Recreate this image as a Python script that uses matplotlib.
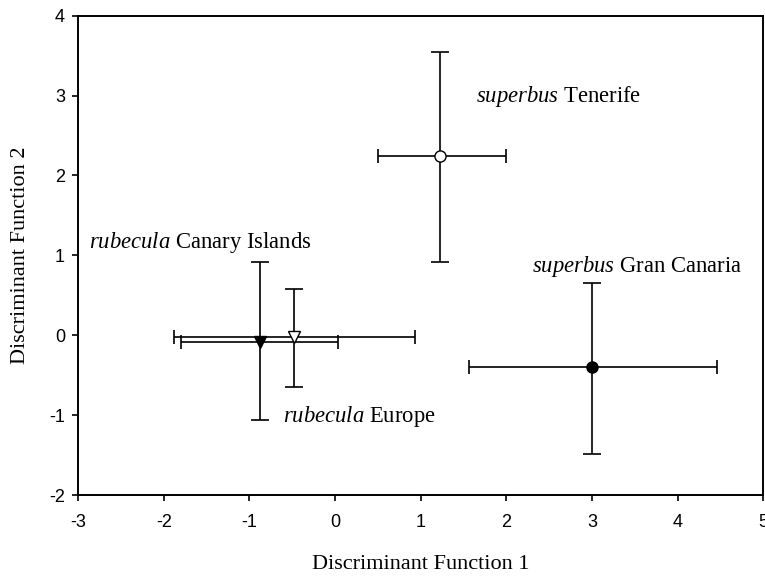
import matplotlib
matplotlib.use("Agg")
import matplotlib.pyplot as plt

plt.rcParams["axes.unicode_minus"] = False
plt.rcParams["mathtext.fontset"] = "custom"
plt.rcParams["mathtext.it"] = "Liberation Serif:italic"
plt.rcParams["mathtext.rm"] = "Liberation Serif"

# Data
groups = ["superbus Tenerife", "superbus Gran Canaria", "rubecula Canary Islands", "rubecula Europe"]
df1_mean = [1.23, 3.00, -0.88, -0.48]
df2_mean = [2.24, -0.40, -0.08, -0.02]
df1_low = [0.50, 1.56, -1.80, -1.88]
df1_high = [1.99, 4.46, 0.04, 0.93]
df2_low = [0.92, -1.48, -1.06, -0.64]
df2_high = [3.54, 0.66, 0.92, 0.58]
markers = ["o", "o", "v", "v"]
facecolors = ["white", "black", "black", "white"]

label_italic = ["superbus", "superbus", "rubecula", "rubecula"]
label_plain = ["Tenerife", "Gran Canaria", "Canary Islands", "Europe"]
label_x = [1.64, 2.30, -2.87, -0.61]
label_y = [2.99, 0.86, 1.16, -1.01]

fig = plt.figure(figsize=(7.65, 5.76), dpi=100)
ax = fig.add_axes([0.102, 0.14, 0.896, 0.833])

for i in range(len(groups)):
    x, y = df1_mean[i], df2_mean[i]
    ax.errorbar([x], [y], yerr=[[y - df2_low[i]], [df2_high[i] - y]], fmt="none",
                ecolor="black", elinewidth=1.2, capsize=6.5, capthick=1.2, zorder=2)
    ax.errorbar([x], [y], xerr=[[x - df1_low[i]], [df1_high[i] - x]], fmt="none",
                ecolor="black", elinewidth=1.2, capsize=5, capthick=1.2, zorder=2)
    ax.plot([x], [y], marker=markers[i], markersize=8, markerfacecolor=facecolors[i],
            markeredgecolor="black", markeredgewidth=1.0, linestyle="none", zorder=3)

for i in range(len(groups)):
    ax.text(label_x[i], label_y[i],
            r"$\it{" + label_italic[i] + r"}$ " + label_plain[i],
            fontsize=16.3, family="Liberation Serif", va="center", ha="left")

ax.set_xlim(-3, 5)
ax.set_ylim(-2, 4)
ax.set_xticks(range(-3, 6))
ax.set_yticks(range(-2, 5))
ax.tick_params(direction="out", length=4.3, width=1.2, labelsize=13, top=False, right=False)
ax.tick_params(axis="x", pad=9)
ax.tick_params(axis="y", pad=5)
for lab in ax.get_xticklabels() + ax.get_yticklabels():
    lab.set_family("Liberation Sans")
for s in ax.spines.values():
    s.set_linewidth(1.4)

ax.set_xlabel("Discriminant Function 1", family="Liberation Serif", fontsize=16, labelpad=17.5)
ax.set_ylabel("Discriminant Function 2", family="Liberation Serif", fontsize=16, labelpad=14)

fig.savefig("out.png", dpi=100)
